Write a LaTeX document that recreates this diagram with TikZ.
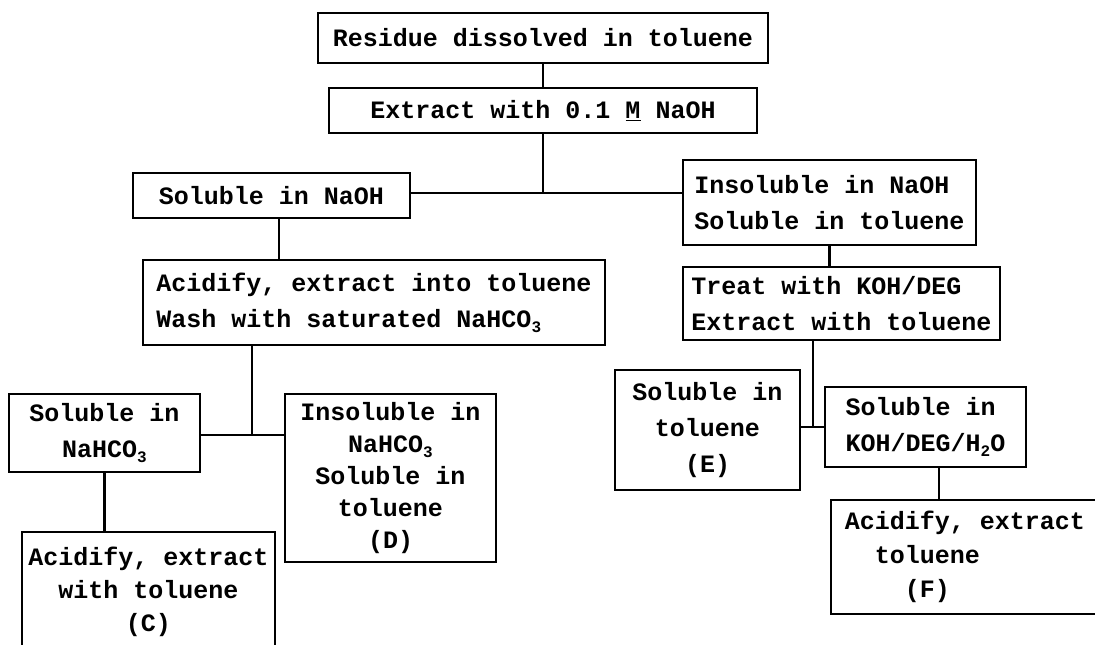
\documentclass[tikz,border=0pt]{standalone}
\usepackage{fontspec}
\setmonofont{Liberation Mono}
\usetikzlibrary{positioning}
\newcommand{\subs}[1]{\raisebox{-0.4ex}{\fontsize{16}{16}\selectfont #1}}

\begin{document}
\begin{tikzpicture}[x=1pt, y=-1pt,
    box/.style={draw, line width=2.6pt, inner sep=4pt, align=center},
    link/.style={line width=2.6pt},
    tight/.style={font=\ttfamily\bfseries\fontsize{25}{#1}\selectfont},
    font=\ttfamily\bfseries\fontsize{25}{36}\selectfont]
  \path[use as bounding box, fill=white] (0,0) rectangle (1095,645);

  \node[box, minimum width=450pt, minimum height=50pt] (residue) at (543,38) {Residue dissolved in toluene};
  \node[box, minimum width=428pt, minimum height=45pt] (extract) at (543,110.5) {Extract with 0.1 \underline{M} NaOH};

  \node[box, minimum width=277pt, minimum height=45pt] (solnaoh) at (271.5,195.5) {Soluble in NaOH};
  \node[box, align=left, minimum width=293pt, minimum height=85pt] (insol) at (829.5,202.5) {Insoluble in NaOH\\Soluble in toluene};

  \node[box, align=left, minimum width=462pt, minimum height=85pt] (acid) at (374,302.5) {Acidify, extract into toluene\\Wash with saturated NaHCO\subs{3}};
  \node[box, align=left, minimum width=317pt, minimum height=73pt] (treat) at (841.5,303.5) {Treat with KOH/DEG\\Extract with toluene};

  \node[box, minimum width=191pt, minimum height=78pt] (nahco) at (104.5,433) {Soluble in\\NaHCO\subs{3}};
  \node[box, tight=32, minimum width=211pt, minimum height=168pt] (prodD) at (390.5,478) {Insoluble in\\NaHCO\subs{3}\\Soluble in\\toluene\\(D)};
  \node[box, tight=33, minimum width=253pt, minimum height=120pt] (prodC) at (148.5,592) {Acidify, extract\\with toluene\\(C)};

  \node[box, minimum width=185pt, minimum height=120pt] (prodE) at (707.5,430) {Soluble in\\toluene\\(E)};
  \node[box, align=left, minimum width=201pt, minimum height=80pt] (koh) at (925.5,427) {Soluble in\\KOH/DEG/H\subs{2}O};
  \node[box, tight=34, align=left, minimum width=268pt, minimum height=114pt] (prodF) at (965,557) {Acidify, extract\\\hspace*{30pt}toluene\\\hspace*{60pt}(F)};

  \coordinate (split1) at (543,193);
  \coordinate (split2) at (252,435);
  \coordinate (split3) at (813,427);
  \coordinate (drop1) at (279,0);
  \coordinate (drop2) at (939,0);

  \draw[link] (residue.south) -- (extract.north);
  \draw[link] (extract.south) -- (split1);
  \draw[link] (solnaoh.east |- split1) -- (insol.west |- split1);
  \draw[link] (solnaoh.south -| drop1) -- (acid.north -| drop1);
  \draw[link] (insol.south) -- (insol.south |- treat.north);
  \draw[link] (acid.south -| split2) -- (split2);
  \draw[link] (nahco.east |- split2) -- (prodD.west |- split2);
  \draw[link] (nahco.south) -- (nahco.south |- prodC.north);
  \draw[link] (treat.south -| split3) -- (split3);
  \draw[link] (prodE.east |- split3) -- (koh.west |- split3);
  \draw[link] (koh.south -| drop2) -- (prodF.north -| drop2);
\end{tikzpicture}
\end{document}
